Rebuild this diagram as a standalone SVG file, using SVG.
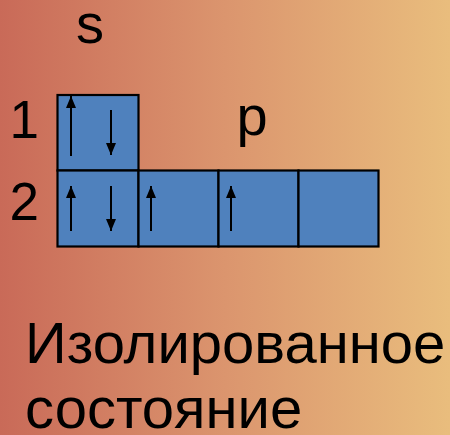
<svg xmlns="http://www.w3.org/2000/svg" width="450" height="435" viewBox="0 0 450 435">
<defs>
<linearGradient id="bg" x1="0" y1="0" x2="1" y2="0">
<stop offset="0" stop-color="#C96A58"/>
<stop offset="0.5" stop-color="#DB956E"/>
<stop offset="1" stop-color="#E9BD7D"/>
</linearGradient>
<marker id="ah" viewBox="0 0 12 10" refX="12" refY="5" markerWidth="12" markerHeight="10" markerUnits="userSpaceOnUse" orient="auto">
<path d="M0,0 L12,5 L0,10 Z" fill="#000"/>
</marker>
</defs>
<style>
.box{fill:#4F81BD;stroke:#000;stroke-width:2.2}
.t{font-family:"Liberation Sans",Arial,sans-serif;fill:#000}
.ar{stroke:#000;stroke-width:2;fill:none}
</style>
<rect width="450" height="435" fill="url(#bg)"/>
<g id="labels">
<text class="t" x="90" y="43" font-size="56" text-anchor="middle">s</text>
<text class="t" x="252" y="135" font-size="56" text-anchor="middle">p</text>
<text class="t" x="39" y="138" font-size="53" text-anchor="end">1</text>
<text class="t" x="39" y="220" font-size="53" text-anchor="end">2</text>
</g>
<g id="cell-1s"><rect class="box" x="57.5" y="95" width="81" height="75.5"/></g>
<g id="cell-2s"><rect class="box" x="57.5" y="170.5" width="81" height="76"/></g>
<g id="cell-2p1"><rect class="box" x="138.5" y="170.5" width="80" height="76"/></g>
<g id="cell-2p2"><rect class="box" x="218.5" y="170.5" width="80" height="76"/></g>
<g id="cell-2p3"><rect class="box" x="298.5" y="170.5" width="80" height="76"/></g>
<g id="arrows">
<line class="ar" x1="71" y1="156" x2="71" y2="96" marker-end="url(#ah)"/>
<line class="ar" x1="111" y1="110" x2="111" y2="155" marker-end="url(#ah)"/>
<line class="ar" x1="71" y1="231" x2="71" y2="186" marker-end="url(#ah)"/>
<line class="ar" x1="111" y1="186" x2="111" y2="231" marker-end="url(#ah)"/>
<line class="ar" x1="151" y1="231" x2="151" y2="186" marker-end="url(#ah)"/>
<line class="ar" x1="231" y1="231" x2="231" y2="186" marker-end="url(#ah)"/>
</g>
<g id="caption">
<text class="t" x="25" y="363" font-size="58">Изолированное</text>
<text class="t" x="25" y="428" font-size="58">состояние</text>
</g>
</svg>
